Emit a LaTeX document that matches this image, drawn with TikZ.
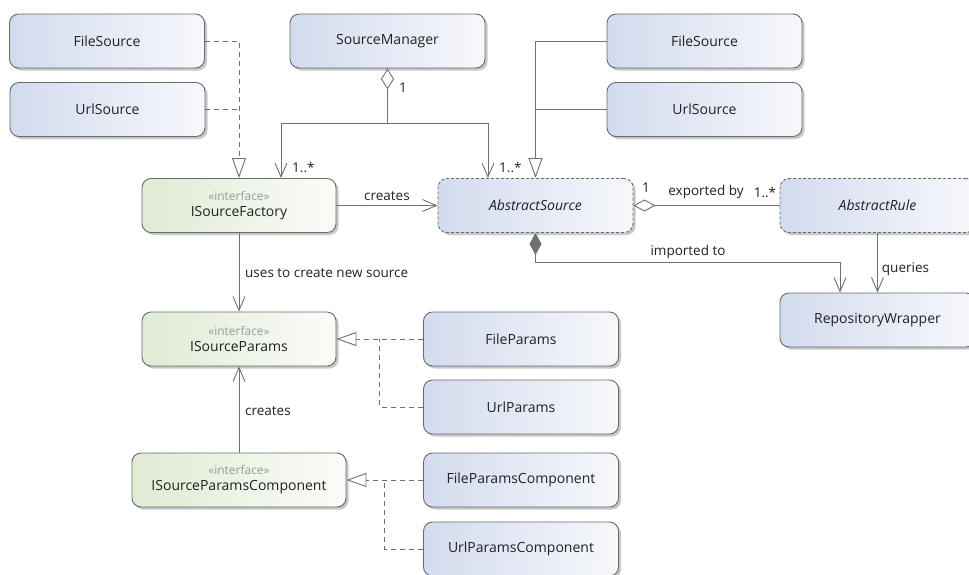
\documentclass[tikz,border=0pt]{standalone}
\usepackage{fontspec}
\setmainfont{Open Sans}
\usetikzlibrary{arrows.meta,shadows,calc}
\definecolor{lineg}{HTML}{707070}
\definecolor{blueL}{HTML}{D2DBEE}
\definecolor{blueR}{HTML}{F7F8FC}
\definecolor{greenL}{HTML}{DFEBD3}
\definecolor{greenR}{HTML}{FBFCF9}
\definecolor{bord}{HTML}{6A6A6A}
\definecolor{txt}{HTML}{222222}
\definecolor{stereog}{HTML}{9A9A9A}
\tikzset{
  box/.style={draw=bord, line width=0.9pt, rounded corners=9pt,
    minimum width=195pt, minimum height=54pt, inner sep=0pt, align=center,
    text=txt, font=\fontsize{14}{16}\selectfont,
    drop shadow={shadow xshift=2.5pt, shadow yshift=-2.5pt, fill=black, opacity=0.22}},
  bluebox/.style={box, left color=blueL, right color=blueR},
  greenbox/.style={box, left color=greenL, right color=greenR},
  abstractbox/.style={bluebox, dash pattern=on 3pt off 2pt, font=\fontsize{14}{16}\selectfont\itshape},
  conn/.style={draw=lineg, line width=0.9pt},
  dconn/.style={conn, dash pattern=on 5pt off 4pt},
  barb/.style={-{Straight Barb[length=14pt,width=12pt]}},
  realize/.style={-{Triangle[open,length=20pt,width=14pt,fill=white]}},
  lbl/.style={text=txt, font=\fontsize{13.5}{15}\selectfont, inner sep=1pt},
}
\newcommand{\stereo}[1]{{\fontsize{12}{14}\selectfont\color{stereog}«interface»}\\#1}
\begin{document}
\begin{tikzpicture}[x=1pt,y=-1pt]
\fill[white] (0,0) rectangle (969,574);
\clip (0,0) rectangle (969,574);
% nodes
\node[bluebox] (LFile) at (107,41) {FileSource};
\node[bluebox] (LUrl) at (107.5,109.5) {UrlSource};
\node[bluebox] (SM) at (387.5,41) {SourceManager};
\node[bluebox] (RFile) at (704.5,41) {FileSource};
\node[bluebox] (RUrl) at (704.5,109.5) {UrlSource};
\node[greenbox, minimum width=194pt] (Fac) at (239,205.5) {\stereo{ISourceFactory}};
\node[abstractbox] (AS) at (535.5,205.5) {AbstractSource};
\node[abstractbox] (AR) at (877.5,205.5) {AbstractRule};
\node[bluebox] (RW) at (877.5,320) {RepositoryWrapper};
\node[greenbox, minimum width=194pt] (SP) at (239,339) {\stereo{ISourceParams}};
\node[bluebox] (FP) at (521,339) {FileParams};
\node[bluebox] (UP) at (521,407) {UrlParams};
\node[greenbox, minimum width=214pt] (SPC) at (239,480) {\stereo{ISourceParamsComponent}};
\node[bluebox] (FPC) at (521,480) {FileParamsComponent};
\node[bluebox] (UPC) at (521,549) {UrlParamsComponent};
% left realizations
\draw[dconn, realize] (LFile.east) -| (Fac.north);
\draw[dconn] (LUrl.east) -- (LUrl.east -| Fac.north);
% source manager
\coordinate (smj) at ($(SM.south)+(0,55)$);
\draw[conn, {Diamond[open,length=21pt,width=13pt]}-] (SM.south) -- (smj);
\node[lbl, anchor=west] (m1) at (398,88) {1};
\draw[conn, barb] (smj) -| ([xshift=42pt]Fac.north);
\draw[conn, barb] (smj) -| ([xshift=-47.5pt]AS.north);
\node[lbl, anchor=west] (m2) at (291,167) {1..*};
\node[lbl, anchor=west] (m3) at (498,167) {1..*};
% generalization
\draw[conn, realize] (RFile.west) -| (AS.north);
\draw[conn] (RUrl.west) -- (RUrl.west -| AS.north);
% creates
\draw[conn, barb] (Fac.east) -- node[lbl, above=3pt] {creates} (AS.west);
% exported by
\draw[conn, {Diamond[open,length=22pt,width=12pt]}-] (AS.east) -- (AR.west);
\node[lbl, anchor=west] (m4) at (641,188) {1};
\node[lbl] (m5) at (706,192) {exported by};
\node[lbl] (m6) at (765,192) {1..*};
% imported to
\coordinate (ij) at ($(AS.south)+(0,29)$);
\draw[conn, {Diamond[fill=lineg,length=22pt,width=12pt]}-{Straight Barb[length=14pt,width=12pt]}] (AS.south) -- (ij) -| ([xshift=-37.5pt]RW.north);
\node[lbl] (m7) at (688,252) {imported to};
% queries
\draw[conn, barb] (AR.south) -- node[lbl, right=3pt, pos=0.6] {queries} (RW.north);
% uses
\draw[conn, barb] (Fac.south) -- (SP.north);
\node[lbl, anchor=west] (m8) at (244,273) {uses to create new source};
\draw[conn, barb] (SPC.north) -- (SP.south);
\node[lbl, anchor=west] (m9) at (244,411) {creates};
% params realizations
\draw[dconn, realize] (FP.west) -- (SP.east);
\coordinate (pj) at ($(SP.east)!0.5!(FP.west)$);
\draw[dconn] (UP.west) -| (pj);
\draw[dconn, realize] (FPC.west) -- (SPC.east);
\coordinate (cj) at ($(SPC.east)!0.5!(FPC.west)$);
\draw[dconn] (UPC.west) -| (cj);
\end{tikzpicture}
\end{document}
